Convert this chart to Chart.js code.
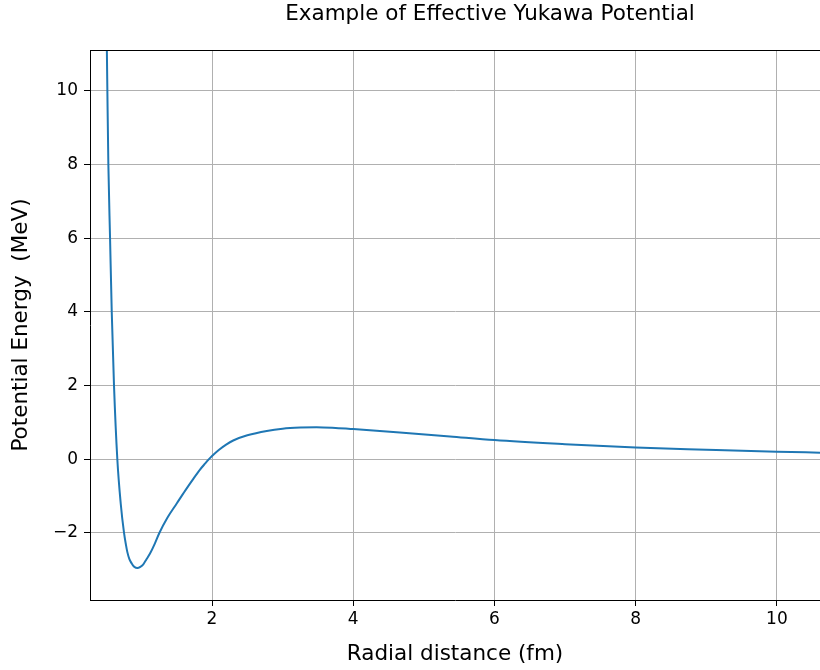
<!DOCTYPE html>
<html>
<head>
<meta charset="utf-8">
<script src="https://cdn.jsdelivr.net/npm/chart.js@4"></script>
<style>
  body { margin: 0; background: #fff; }
  canvas { display: block; }
</style>
</head>
<body>
<canvas id="canvas" width="820" height="670"></canvas>
<script>
// values
let radius = [0.50, 0.518, 0.532, 0.556, 0.580, 0.612, 0.659, 0.707, 0.754, 0.78, 0.801, 0.83, 0.863, 0.88, 0.90, 0.942, 0.985, 1.027, 1.07, 1.122, 1.19, 1.254, 1.37, 1.50, 1.62, 1.735, 1.83, 1.9, 1.95, 2.0, 2.1, 2.2, 2.3, 2.5, 2.775, 3.0, 3.25, 3.48, 3.75, 4.0, 4.66, 5.37, 6.0, 7.0, 8.0, 9.0, 10.0, 10.61]
let energy = [12.8, 10, 8, 6, 4, 2, 0, -1.2, -2, -2.31, -2.52, -2.71, -2.83, -2.88, -2.92, -2.95, -2.92, -2.85, -2.72, -2.56, -2.29, -2.0, -1.58, -1.2, -0.85, -0.53, -0.28, -0.12, -0.01, 0.09, 0.26, 0.40, 0.51, 0.65, 0.77, 0.83, 0.86, 0.87, 0.85, 0.82, 0.73, 0.62, 0.52, 0.41, 0.32, 0.26, 0.205, 0.18]
let xTicks = [2, 4, 6, 8, 10]
let yTicks = [-2, 0, 2, 4, 6, 8, 10]

let points = radius.map((r, i) => ({ x: r, y: energy[i] }))

const font = "'DejaVu Sans', sans-serif"

const extras = {
  id: 'extras',
  afterDraw(chart) {
    const c = chart.ctx
    const a = chart.chartArea
    c.save()
    c.strokeStyle = "#000"
    c.lineWidth = 1
    c.beginPath()
    c.moveTo(a.left, a.top + 0.5)
    c.lineTo(a.right, a.top + 0.5)
    c.stroke()
    c.fillStyle = "#000"
    c.font = "21.5px " + font
    c.textAlign = "center"
    c.textBaseline = "middle"
    c.fillText("Example of Effective Yukawa Potential", 490, 14)
    c.restore()
  }
}

const ctx = document.getElementById('canvas');
const myChart = new Chart(ctx, {
  type: 'line',
  data: {
    datasets: [{
      data: points,
      borderColor: "#1f77b4",
      backgroundColor: "transparent",
      borderWidth: 2,
      pointRadius: 0,
      cubicInterpolationMode: 'monotone'
    }]
  },
  options: {
    responsive: false,
    animation: false,
    layout: { padding: { top: 50, right: 0, left: 0, bottom: 0 } },
    plugins: { legend: { display: false }, tooltip: { enabled: false } },
    scales: {
      x: {
        type: 'linear',
        min: 0.272,
        max: 10.61,
        afterBuildTicks: axis => { axis.ticks = xTicks.map(v => ({ value: v })) },
        afterFit: axis => { axis.height = 70 },
        grid: { color: "#b0b0b0", lineWidth: 1, tickLength: 6, tickColor: "#000" },
        border: { color: "#000", width: 1 },
        ticks: { color: "#000", font: { family: font, size: 17 }, padding: 3, maxRotation: 0 },
        title: { display: true, text: "Radial distance (fm)", color: "#000", font: { family: font, size: 21.5 }, padding: { top: 0, bottom: 3 } }
      },
      y: {
        min: -3.82,
        max: 11.11,
        afterBuildTicks: axis => { axis.ticks = yTicks.map(v => ({ value: v })) },
        afterFit: axis => { axis.width = 90 },
        grid: { color: "#b0b0b0", lineWidth: 1, tickLength: 6, tickColor: "#000" },
        border: { color: "#000", width: 1 },
        ticks: {
          color: "#000",
          font: { family: font, size: 17 },
          padding: 6,
          callback: v => String(v).replace('-', '\u2212')
        },
        title: { display: true, text: "Potential Energy  (MeV)", color: "#000", font: { family: font, size: 21.5 }, padding: { top: 9, bottom: 0 } }
      }
    }
  },
  plugins: [extras]
});
</script>
</body>
</html>
